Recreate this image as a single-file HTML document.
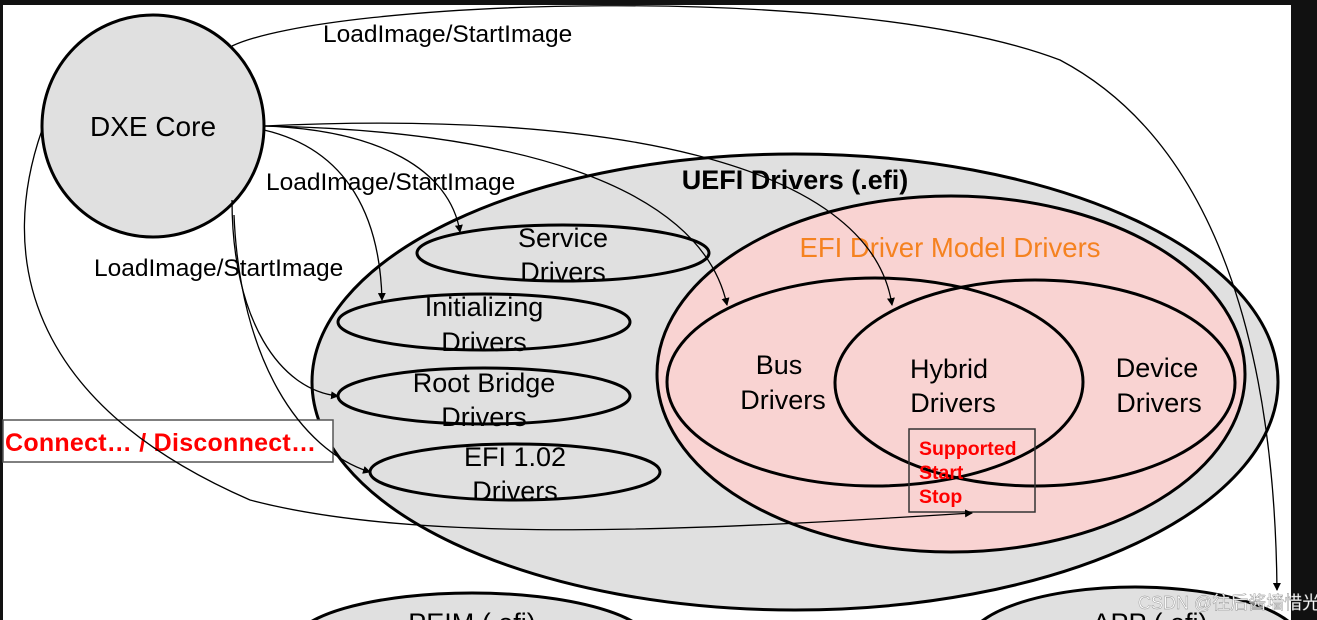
<!DOCTYPE html>
<html><head><meta charset="utf-8"><style>
html,body{margin:0;padding:0;background:#fff;width:1317px;height:620px;overflow:hidden}
svg{display:block}
text{font-family:"Liberation Sans",Arial,sans-serif}
</style></head><body>
<svg width="1317" height="620" viewBox="0 0 1317 620" xmlns="http://www.w3.org/2000/svg">
<defs><marker id="a" markerWidth="8" markerHeight="8" refX="7" refY="4" orient="auto" markerUnits="userSpaceOnUse"><path d="M0,0 L8,4 L0,8 z" fill="#000"/></marker></defs>
<rect width="1317" height="620" fill="#fff"/>
<rect x="0" y="0" width="1317" height="5" fill="#111"/>
<rect x="0" y="0" width="3" height="620" fill="#111"/>
<rect x="1291" y="0" width="26" height="620" fill="#111"/>
<ellipse cx="472" cy="645" rx="180" ry="52" fill="#e0e0e0" stroke="#000" stroke-width="3"/>
<ellipse cx="1135" cy="645" rx="168" ry="58" fill="#e0e0e0" stroke="#000" stroke-width="3"/>
<text x="472" y="632" font-size="27" text-anchor="middle">PEIM (.efi)</text>
<text x="1150" y="632" font-size="27" text-anchor="middle">APP (.efi)</text>
<ellipse cx="795" cy="382" rx="483" ry="228" fill="#e0e0e0" stroke="#000" stroke-width="3"/>
<text x="795" y="189" font-size="27" font-weight="bold" text-anchor="middle">UEFI Drivers (.efi)</text>
<ellipse cx="951" cy="374" rx="294" ry="178" fill="#f9d3d2" stroke="#000" stroke-width="3"/>
<text x="950" y="257" font-size="27.5" fill="#f58220" text-anchor="middle">EFI Driver Model Drivers</text>
<ellipse cx="875" cy="382" rx="208" ry="104" fill="none" stroke="#000" stroke-width="3"/>
<ellipse cx="1035" cy="383" rx="200" ry="103" fill="none" stroke="#000" stroke-width="3"/>
<text font-size="27" text-anchor="middle"><tspan x="779" y="374">Bus</tspan><tspan x="783" y="409">Drivers</tspan></text>
<text font-size="27" text-anchor="middle"><tspan x="949" y="378">Hybrid</tspan><tspan x="953" y="412">Drivers</tspan></text>
<text font-size="27" text-anchor="middle"><tspan x="1157" y="377">Device</tspan><tspan x="1159" y="412">Drivers</tspan></text>
<rect x="909" y="429" width="126" height="83" fill="none" stroke="#333" stroke-width="1.5"/>
<text font-size="19.5" font-weight="bold" fill="#f00"><tspan x="919" y="455">Supported</tspan><tspan x="919" y="479">Start</tspan><tspan x="919" y="503">Stop</tspan></text>
<ellipse cx="563" cy="253" rx="146" ry="28" fill="#e0e0e0" stroke="#000" stroke-width="3"/>
<text font-size="27" text-anchor="middle"><tspan x="563" y="247">Service</tspan><tspan x="563" y="281">Drivers</tspan></text>
<ellipse cx="484" cy="322" rx="146" ry="28" fill="#e0e0e0" stroke="#000" stroke-width="3"/>
<text font-size="27" text-anchor="middle"><tspan x="484" y="316">Initializing</tspan><tspan x="484" y="351">Drivers</tspan></text>
<ellipse cx="484" cy="396" rx="146" ry="28" fill="#e0e0e0" stroke="#000" stroke-width="3"/>
<text font-size="27" text-anchor="middle"><tspan x="484" y="392">Root Bridge</tspan><tspan x="484" y="426">Drivers</tspan></text>
<ellipse cx="515" cy="472" rx="145" ry="28" fill="#e0e0e0" stroke="#000" stroke-width="3"/>
<text font-size="27" text-anchor="middle"><tspan x="515" y="466">EFI 1.02</tspan><tspan x="515" y="500">Drivers</tspan></text>
<circle cx="153" cy="126" r="111" fill="#e0e0e0" stroke="#000" stroke-width="3"/>
<text x="153" y="136" font-size="28" text-anchor="middle">DXE Core</text>
<rect x="3" y="420" width="330" height="42" fill="#fff" stroke="#555" stroke-width="1.5"/>
<text x="5" y="451" font-size="25" font-weight="bold" fill="#f00" textLength="311">Connect… / Disconnect…</text>
<g fill="none" stroke="#000" stroke-width="1.3">
<path d="M232,46 C330,0 850,-20 1060,60 C1230,150 1275,380 1277,590" marker-end="url(#a)"/>
<path d="M264,126 C380,130 450,170 460,232" marker-end="url(#a)"/>
<path d="M264,130 C350,150 380,220 382,300" marker-end="url(#a)"/>
<path d="M264,126 C500,130 700,180 727,305" marker-end="url(#a)"/>
<path d="M264,126 C600,110 870,160 892,305" marker-end="url(#a)"/>
<path d="M232,200 C232,320 280,390 338,396" marker-end="url(#a)"/>
<path d="M234,215 C240,360 300,450 370,472" marker-end="url(#a)"/>
<path d="M42,130 C0,250 20,400 250,500 C420,545 700,530 972,513" marker-end="url(#a)"/>
</g>
<text x="323" y="42" font-size="24.5">LoadImage/StartImage</text>
<text x="266" y="190" font-size="24.5">LoadImage/StartImage</text>
<text x="94" y="276" font-size="24.5">LoadImage/StartImage</text>
<text x="1138" y="609" font-size="18" fill="#fff" stroke="#888" stroke-width="0.4">CSDN @往后酱墙惜光</text>
</svg>
</body></html>
